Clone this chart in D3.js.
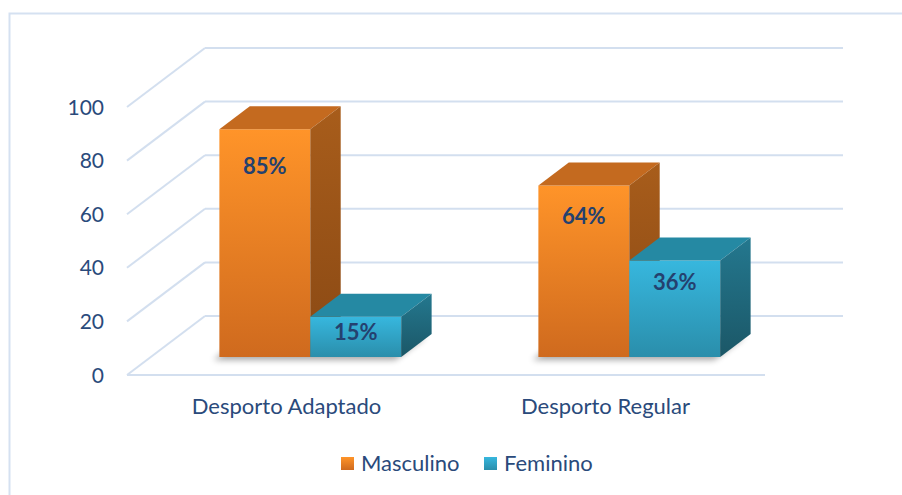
<!DOCTYPE html>
<html>
<head>
<meta charset="utf-8">
<script src="https://cdn.jsdelivr.net/npm/d3@7"></script>
<style>
  body { margin: 0; background: #fff; }
  svg text { font-family: Lato, "Noto Sans", sans-serif; fill: #2a4a7b; }
</style>
</head>
<body>
<svg id="chart" width="902" height="495"></svg>
<script>
const categories = ["Desporto Adaptado", "Desporto Regular"];
const seriesNames = ["Masculino", "Feminino"];
const masculino = [85, 64];
const feminino = [15, 36];
const yTicks = [0, 20, 40, 60, 80, 100];

const svg = d3.select("#chart");

// plot area (front floor edge) and wall depth offset
const x0px = 127, floorW = 638,
      depthX = 78, depthY = 59,
      barZ0 = 0.305, barZ1 = 0.695;

const yScale = d3.scaleLinear().domain([0, 100]).range([375, 107]);
const xCat = d3.scaleBand().domain(categories).range([0, floorW])
  .paddingInner(0.43).paddingOuter(0.215);
const xSer = d3.scaleBand().domain(seriesNames).range([0, xCat.bandwidth()]);

// project (x along floor, value, depth 0..1) to screen
const P = function(x, v, z) {
  return [x0px + x + z * depthX, yScale(v) - z * depthY];
};

const colors = {
  Masculino: {front: ["#ff9429", "#cf6a1e"], top: "#c46a1f", side: ["#a85d1b", "#8a4914"]},
  Feminino: {front: ["#37b7de", "#2a8eab"], top: "#2589a3", side: ["#24788f", "#1b5767"]}
};

const defs = svg.append("defs");
seriesNames.forEach(function(s) {
  const c = colors[s];
  const gf = defs.append("linearGradient").attr("id", "front-" + s)
    .attr("x1", 0).attr("y1", 0).attr("x2", 0).attr("y2", 1);
  gf.append("stop").attr("offset", 0).attr("stop-color", c.front[0]);
  gf.append("stop").attr("offset", 1).attr("stop-color", c.front[1]);
  const gs = defs.append("linearGradient").attr("id", "side-" + s)
    .attr("x1", 0).attr("y1", 0).attr("x2", 0).attr("y2", 1);
  gs.append("stop").attr("offset", 0).attr("stop-color", c.side[0]);
  gs.append("stop").attr("offset", 1).attr("stop-color", c.side[1]);
});
defs.append("filter").attr("id", "blur")
  .attr("x", "-20%").attr("y", "-50%").attr("width", "140%").attr("height", "200%")
  .append("feGaussianBlur").attr("stdDeviation", 3);

// chart border
svg.append("rect")
  .attr("x", 9.5).attr("y", 13.5)
  .attr("width", 902).attr("height", 495)
  .attr("fill", "none").attr("stroke", "#d5e1f1").attr("stroke-width", 2);

const grid = svg.append("g")
  .attr("stroke", "#d3dfef").attr("stroke-width", 2).attr("fill", "none");

// back wall gridlines
grid.selectAll(".back")
  .data(yTicks)
  .join("line")
    .attr("x1", function(d) { return P(0, d, 1)[0]; })
    .attr("y1", function(d) { return P(0, d, 1)[1]; })
    .attr("x2", function(d) { return P(floorW, d, 1)[0]; })
    .attr("y2", function(d) { return P(floorW, d, 1)[1]; });

// side wall gridlines
grid.selectAll(".side")
  .data(yTicks)
  .join("line")
    .attr("x1", function(d) { return P(0, d, 0)[0]; })
    .attr("y1", function(d) { return P(0, d, 0)[1]; })
    .attr("x2", function(d) { return P(0, d, 1)[0]; })
    .attr("y2", function(d) { return P(0, d, 1)[1]; });

// floor front edge
grid.append("line")
  .attr("x1", P(0, 0, 0)[0]).attr("y1", P(0, 0, 0)[1])
  .attr("x2", P(floorW, 0, 0)[0]).attr("y2", P(floorW, 0, 0)[1]);

// y tick labels
svg.append("g").selectAll("text")
  .data(yTicks)
  .join("text")
    .attr("x", 104)
    .attr("y", function(d) { return yScale(d); })
    .attr("dy", "0.36em")
    .attr("text-anchor", "end")
    .style("font-size", "21px")
    .text(function(d) { return d; });

// bar data
const bars = [];
categories.forEach(function(c, i) {
  bars.push({cat: c, series: "Masculino", value: masculino[i]});
  bars.push({cat: c, series: "Feminino", value: feminino[i]});
});
bars.forEach(function(b) {
  b.xl = xCat(b.cat) + xSer(b.series);
  b.xr = b.xl + xSer.bandwidth();
});

const poly = function(pts) {
  return "M" + pts.map(function(p) { return p.join(","); }).join("L") + "Z";
};

// soft shadows under each group footprint
svg.append("g").selectAll("path")
  .data(categories)
  .join("path")
    .attr("fill", "#000")
    .attr("opacity", 0.35)
    .attr("filter", "url(#blur)")
    .attr("transform", "translate(-6,3)")
    .attr("d", function(c) {
      const l = xCat(c), r = xCat(c) + xCat.bandwidth();
      return poly([P(l, 0, barZ0), P(r, 0, barZ0), P(r, 0, barZ1), P(l, 0, barZ1)]);
    });

const barG = svg.append("g").selectAll("g")
  .data(bars)
  .join("g");

barG.append("path")
  .attr("fill", function(d) { return "url(#front-" + d.series + ")"; })
  .attr("d", function(d) {
    return poly([P(d.xl, 0, barZ0), P(d.xr, 0, barZ0), P(d.xr, d.value, barZ0), P(d.xl, d.value, barZ0)]);
  });

barG.append("path")
  .attr("fill", function(d) { return colors[d.series].top; })
  .attr("d", function(d) {
    return poly([P(d.xl, d.value, barZ0), P(d.xr, d.value, barZ0), P(d.xr, d.value, barZ1), P(d.xl, d.value, barZ1)]);
  });

barG.append("path")
  .attr("fill", function(d) { return "url(#side-" + d.series + ")"; })
  .attr("d", function(d) {
    return poly([P(d.xr, 0, barZ0), P(d.xr, 0, barZ1), P(d.xr, d.value, barZ1), P(d.xr, d.value, barZ0)]);
  });

// data labels
barG.append("text")
  .attr("x", function(d) { return P((d.xl + d.xr) / 2, 0, barZ0)[0]; })
  .attr("y", function(d) {
    const top = P(0, d.value, barZ0)[1], bot = P(0, 0, barZ0)[1];
    return top + 10 + 0.12 * (bot - top);
  })
  .attr("dy", "0.36em")
  .attr("text-anchor", "middle")
  .style("font-size", "22px")
  .style("font-weight", "bold")
  .style("fill", "#24416f")
  .text(function(d) { return d.value + "%"; });

// category labels
svg.append("g").selectAll("text")
  .data(categories)
  .join("text")
    .attr("x", function(d) { return x0px + xCat(d) + xCat.bandwidth() / 2; })
    .attr("y", 414)
    .attr("text-anchor", "middle")
    .style("font-size", "22px")
    .text(function(d) { return d; });

// legend
const legendX = [341, 484];
const legend = svg.append("g").selectAll("g")
  .data(seriesNames)
  .join("g")
    .attr("transform", function(d, i) { return "translate(" + legendX[i] + ",457)"; });
legend.append("rect")
  .attr("width", 13).attr("height", 13)
  .attr("fill", function(d) { return "url(#front-" + d + ")"; });
legend.append("text")
  .attr("x", 20).attr("y", 14)
  .style("font-size", "22px")
  .text(function(d) { return d; });
</script>
</body>
</html>
